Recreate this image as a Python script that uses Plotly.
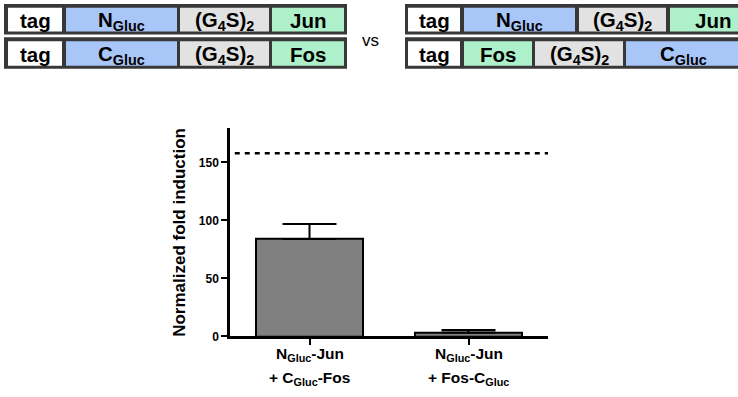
import plotly.graph_objects as go

# ---------------- data ----------------
label_line1 = ["N<sub>Gluc</sub>-Jun", "N<sub>Gluc</sub>-Jun"]
label_line2 = ["+ C<sub>Gluc</sub>-Fos", "+ Fos-C<sub>Gluc</sub>"]
fold_values = [84, 3.4]
fold_err_plus = [13, 2.2]
reference_level = 158
y_ticks = [0, 50, 100, 150]

# construct diagrams (segment labels)
left_row1 = ["tag", "N<sub>Gluc</sub>", "(G<sub>4</sub>S)<sub>2</sub>", "Jun"]
left_row2 = ["tag", "C<sub>Gluc</sub>", "(G<sub>4</sub>S)<sub>2</sub>", "Fos"]
right_row1 = ["tag", "N<sub>Gluc</sub>", "(G<sub>4</sub>S)<sub>2</sub>", "Jun"]
right_row2 = ["tag", "Fos", "(G<sub>4</sub>S)<sub>2</sub>", "C<sub>Gluc</sub>"]

# ---------------- styling / layout helpers ----------------
W, H = 738, 397
FONT = "Arial, Liberation Sans, Helvetica, sans-serif"
BLUE = "#a9c6f8"
GREY = "#e2e2e2"
GREEN = "#aef0c9"
WHITE = "#ffffff"
FRAME = "#383838"

def seg_color(lbl):
    if lbl == "tag":
        return WHITE
    if "Gluc" in lbl:
        return BLUE
    if "G<sub>4" in lbl:
        return GREY
    return GREEN

# segment extents in pixel space of the overlay axis
left_cells = [(8, 62), (66, 177), (180, 269), (272, 344)]
right_cells_r1 = [(408, 460), (464, 575), (579, 666), (670, 755)]
right_cells_r2 = [(408, 460), (464, 532), (535, 623), (626, 740)]
rows_y = [(4, 35, 8, 32), (38, 70, 42, 67)]

fig = go.Figure()

# main bar chart
fig.add_trace(go.Bar(
    x=[0, 1], y=fold_values, width=0.67,
    marker=dict(color="#808080", line=dict(color="black", width=2)),
    error_y=dict(type="data", symmetric=False, array=fold_err_plus,
                 arrayminus=[0, 0], color="black", thickness=2, width=27),
    showlegend=False, xaxis="x", yaxis="y",
))
fig.add_trace(go.Scatter(
    x=[-0.47, 1.5], y=[reference_level, reference_level], mode="lines",
    line=dict(color="black", width=2.5, dash="5px,5px"),
    showlegend=False, xaxis="x", yaxis="y", hoverinfo="skip",
))
# invisible trace to activate the full-figure overlay axes
fig.add_trace(go.Scatter(x=[0], y=[0], mode="markers", marker=dict(opacity=0),
                         showlegend=False, xaxis="x2", yaxis="y2", hoverinfo="skip"))

shapes = []
annotations = []

def add_construct(frame_x0, frame_x1, cells, labels, row):
    fy0, fy1, cy0, cy1 = rows_y[row]
    shapes.append(dict(type="rect", xref="x2", yref="y2", x0=frame_x0, x1=frame_x1,
                       y0=fy0, y1=fy1, fillcolor=FRAME, line=dict(width=0), layer="above"))
    for (cx0, cx1), lbl in zip(cells, labels):
        shapes.append(dict(type="rect", xref="x2", yref="y2", x0=cx0, x1=cx1,
                           y0=cy0, y1=cy1, fillcolor=seg_color(lbl),
                           line=dict(width=0), layer="above"))
        annotations.append(dict(xref="x2", yref="y2", x=(cx0 + cx1) / 2,
                                y=(cy0 + cy1) / 2 + 1,
                                text="<b>" + lbl + "</b>", showarrow=False,
                                xanchor="center", yanchor="middle",
                                font=dict(family=FONT, size=20.5, color="black")))

add_construct(4, 347, left_cells, left_row1, 0)
add_construct(4, 347, left_cells, left_row2, 1)
add_construct(405, 800, right_cells_r1, right_row1, 0)
add_construct(405, 800, right_cells_r2, right_row2, 1)

annotations.append(dict(xref="x2", yref="y2", x=370, y=41, text="vs", showarrow=False,
                        xanchor="center", yanchor="middle",
                        font=dict(family=FONT, size=17, color="black")))

# category labels under bars
for i, (l1, l2) in enumerate(zip(label_line1, label_line2)):
    annotations.append(dict(xref="x", yref="y2", x=i, y=361, text="<b>" + l1 + "</b>",
                            showarrow=False, xanchor="center", yanchor="middle",
                            font=dict(family=FONT, size=15.5, color="black")))
    annotations.append(dict(xref="x", yref="y2", x=i, y=385, text="<b>" + l2 + "</b>",
                            showarrow=False, xanchor="center", yanchor="middle",
                            font=dict(family=FONT, size=15.5, color="black")))

# y-axis title
annotations.append(dict(xref="x2", yref="y2", x=180, y=237,
                        text="<b>Normalized fold induction</b>", textangle=-90,
                        showarrow=False, xanchor="center", yanchor="middle",
                        font=dict(family=FONT, size=17, color="black")))

ax_x0, ax_x1 = 230, 548
ax_ytop, ax_ybot = 130, 342.5

fig.update_layout(
    width=W, height=H,
    margin=dict(l=0, r=0, t=0, b=0),
    paper_bgcolor="white", plot_bgcolor="rgba(0,0,0,0)",
    bargap=0,
    xaxis=dict(domain=[ax_x0 / W, ax_x1 / W], range=[-0.5, 1.5],
               showgrid=False, zeroline=False, showline=True, linecolor="black",
               linewidth=2.5, ticks="outside", ticklen=6, tickwidth=2,
               tickcolor="black", tickvals=[0, 1], ticktext=["", ""],
               anchor="y", fixedrange=True),
    yaxis=dict(domain=[1 - ax_ybot / H, 1 - ax_ytop / H], range=[0, 180],
               showgrid=False, zeroline=False, showline=True, linecolor="black",
               linewidth=2.5, ticks="outside", ticklen=6, tickwidth=2,
               tickcolor="black", tickvals=y_ticks,
               tickfont=dict(family=FONT, size=12, color="black", weight="bold"),
               anchor="x", fixedrange=True),
    xaxis2=dict(domain=[0, 1], range=[0, W], visible=False, anchor="y2",
                fixedrange=True),
    yaxis2=dict(domain=[0, 1], range=[H, 0], visible=False, anchor="x2",
                fixedrange=True),
    shapes=shapes,
    annotations=annotations,
)

fig.write_html("out.html")
